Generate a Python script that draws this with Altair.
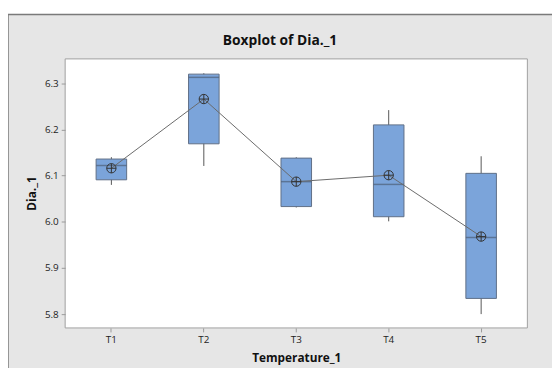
import altair as alt
import pandas as pd

cats = ["T1", "T2", "T3", "T4", "T5"]
whisk_lo = [6.080, 6.121, 6.031, 6.001, 5.800]
q1 = [6.091, 6.169, 6.033, 6.011, 5.834]
median = [6.122, 6.313, 6.087, 6.081, 5.966]
q3 = [6.136, 6.320, 6.138, 6.210, 6.105]
whisk_hi = [6.140, 6.322, 6.140, 6.242, 6.142]
means = [6.116, 6.266, 6.087, 6.101, 5.968]
y_ticks = [5.8, 5.9, 6.0, 6.1, 6.2, 6.3]
title_text = ["Boxplot of Dia._1"]

df = pd.DataFrame({"cat": cats, "lo": whisk_lo, "q1": q1, "med": median,
                   "q3": q3, "hi": whisk_hi, "mean": means})
one = pd.DataFrame({"t": title_text})

FONT = "Open Sans"
W, H = 469, 273

x_enc = alt.X("cat:N", scale=alt.Scale(paddingInner=0, paddingOuter=0),
              axis=alt.Axis(title="Temperature_1", labelAngle=0, domain=False,
                            tickColor="#999999", tickSize=4, labelPadding=3,
                            labelFontSize=10, labelColor="#222222", labelFont=FONT,
                            titleFont=FONT, titleFontSize=12, titleFontWeight="bold",
                            titleColor="#111111", titleY=30, titleBaseline="middle",
                            zindex=1))
y_scale = alt.Scale(domain=[5.77, 6.353], nice=False, zero=False)
y_axis = alt.Axis(title="Dia._1", values=y_ticks, format=".1f", grid=False, domain=False,
                  tickColor="#999999", tickSize=4, labelPadding=3,
                  labelFontSize=10, labelColor="#222222", labelFont=FONT,
                  titleFont=FONT, titleFontSize=12, titleFontWeight="bold",
                  titleColor="#111111", titleX=-34, titleY=136, titleAngle=270,
                  titleAlign="center", titleBaseline="middle", zindex=1)

frame = alt.Chart(one).mark_rect(fill="#e6e6e6", stroke="#7a7a7a", strokeWidth=1.5).encode(
    x=alt.value(-58), x2=alt.value(560), y=alt.value(-45), y2=alt.value(400))
plot_bg = alt.Chart(one).mark_rect(fill="white", stroke="#a0a0a0", strokeWidth=1).encode(
    x=alt.value(0), x2=alt.value(W), y=alt.value(0), y2=alt.value(H))
title = alt.Chart(one).mark_text(font=FONT, fontSize=14, fontWeight="bold", color="#111111",
                                 align="center", baseline="middle").encode(
    text="t:N", x=alt.value(218), y=alt.value(-18))

base = alt.Chart(df)
whiskers = base.mark_rule(color="#555555", strokeWidth=1).encode(
    x=x_enc, y=alt.Y("lo:Q", scale=y_scale, axis=y_axis), y2="hi:Q")
boxes = base.mark_bar(size=31, color="#7BA4DA", stroke="#5f6f86", strokeWidth=1).encode(
    x=x_enc, y=alt.Y("q1:Q", scale=y_scale, axis=y_axis), y2="q3:Q")
meds = base.mark_tick(size=31, thickness=1.5, color="#4f6077").encode(
    x=x_enc, y=alt.Y("med:Q", scale=y_scale, axis=y_axis))
mean_line = base.mark_line(color="#6a6a6a", strokeWidth=1).encode(
    x=x_enc, y=alt.Y("mean:Q", scale=y_scale, axis=y_axis))
mean_pts = base.mark_point(
    shape="M-1,0A1,1 0 1,0 1,0A1,1 0 1,0 -1,0M-1,0L1,0M0,-1L0,1",
    filled=False, size=90, color="#333333", strokeWidth=1, opacity=1).encode(
    x=x_enc, y=alt.Y("mean:Q", scale=y_scale, axis=y_axis))

chart = alt.layer(frame, plot_bg, whiskers, boxes, meds, mean_line, mean_pts, title).properties(
    width=W, height=H,
    autosize=alt.AutoSizeParams(type="none"),
    padding={"left": 58, "top": 49, "right": 25, "bottom": 38},
    background="white",
).configure_view(stroke=None)

chart.save("out.html", embed_options={"renderer": "svg", "actions": False})
